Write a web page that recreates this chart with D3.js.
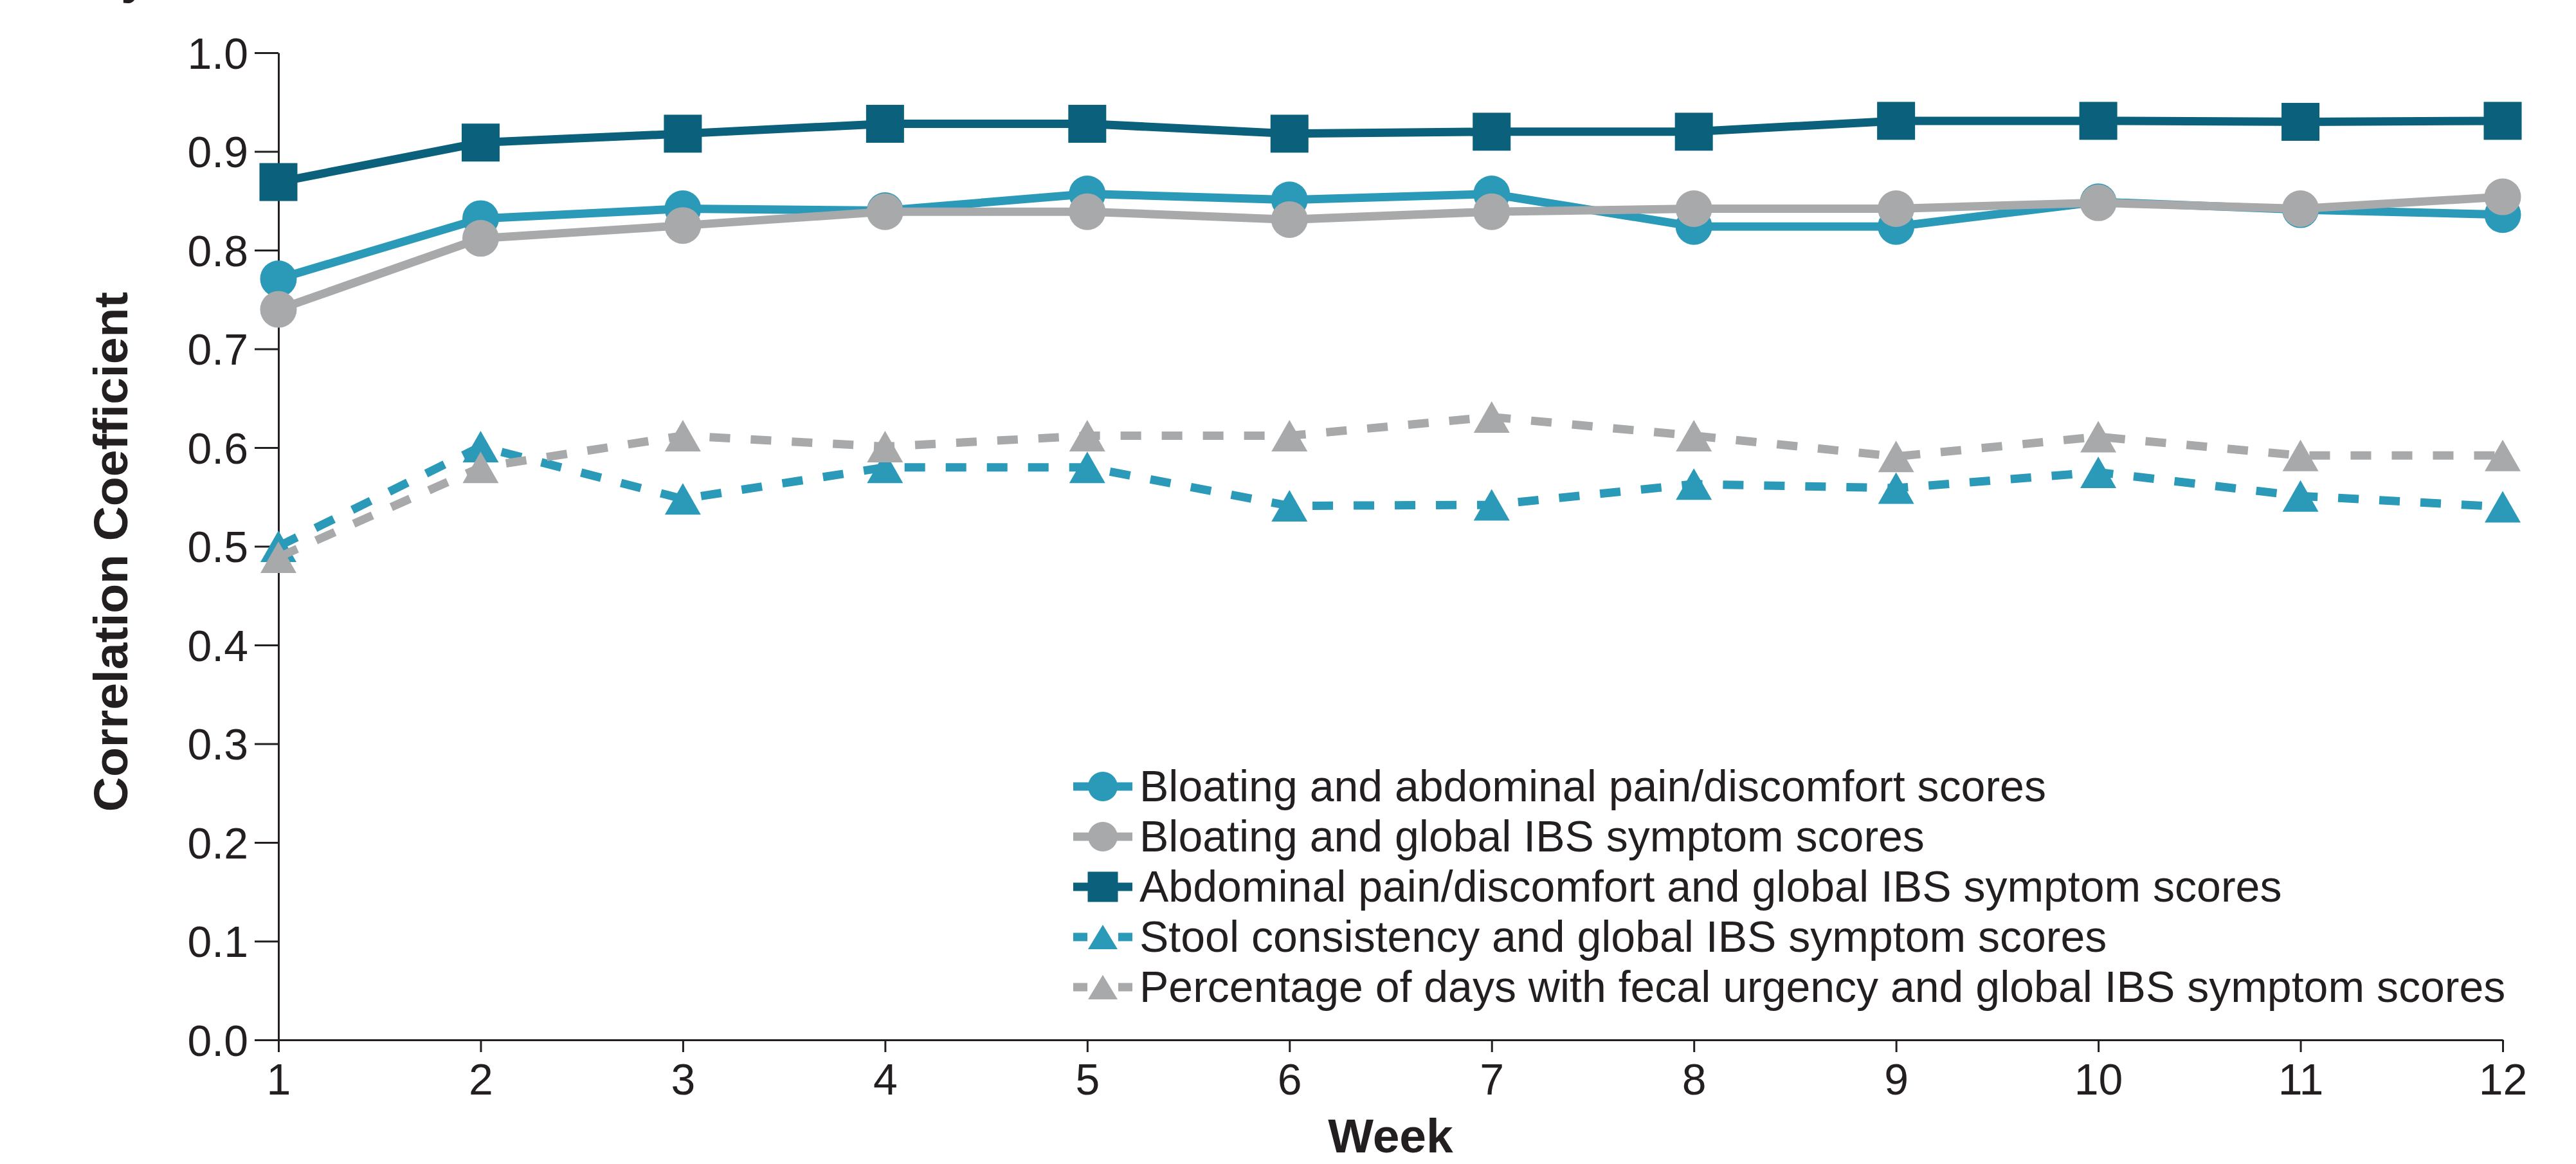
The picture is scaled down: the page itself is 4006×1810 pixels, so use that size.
<!DOCTYPE html>
<html>
<head>
<meta charset="utf-8">
<script src="https://cdn.jsdelivr.net/npm/d3@7"></script>
<style>
  body { margin: 0; background: #fff; }
  svg { display: block; }
</style>
</head>
<body>
<div id="chart"></div>
<script>
"use strict";

// data
const weeks = [1, 2, 3, 4, 5, 6, 7, 8, 9, 10, 11, 12];
const bloatingPain = [0.771, 0.832, 0.842, 0.840, 0.857, 0.851, 0.857, 0.824, 0.824, 0.849, 0.841, 0.836];
const bloatingGlobal = [0.740, 0.812, 0.825, 0.839, 0.839, 0.831, 0.839, 0.842, 0.842, 0.848, 0.842, 0.854];
const painGlobal = [0.869, 0.909, 0.918, 0.928, 0.928, 0.918, 0.920, 0.920, 0.931, 0.931, 0.930, 0.931];
const stoolGlobal = [0.500, 0.601, 0.548, 0.580, 0.580, 0.541, 0.542, 0.563, 0.559, 0.575, 0.551, 0.540];
const urgencyGlobal = [0.489, 0.580, 0.612, 0.601, 0.612, 0.612, 0.631, 0.612, 0.591, 0.611, 0.592, 0.592];

const seriesLabels = [
  "Bloating and abdominal pain/discomfort scores",
  "Bloating and global IBS symptom scores",
  "Abdominal pain/discomfort and global IBS symptom scores",
  "Stool consistency and global IBS symptom scores",
  "Percentage of days with fecal urgency and global IBS symptom scores"
];
const yTicks = [0, 0.1, 0.2, 0.3, 0.4, 0.5, 0.6, 0.7, 0.8, 0.9, 1.0];

const TEAL = "#2b9ab8";
const GREY = "#a8a9ab";
const NAVY = "#0b617c";
const INK = "#231f20";
const FONT = "'Liberation Sans', Arial, Helvetica, sans-serif";

const series = [
  { label: seriesLabels[0], values: bloatingPain, color: TEAL, shape: "circle", dashed: false },
  { label: seriesLabels[1], values: bloatingGlobal, color: GREY, shape: "circle", dashed: false },
  { label: seriesLabels[2], values: painGlobal, color: NAVY, shape: "square", dashed: false },
  { label: seriesLabels[3], values: stoolGlobal, color: TEAL, shape: "triangle", dashed: true },
  { label: seriesLabels[4], values: urgencyGlobal, color: GREY, shape: "triangle", dashed: true }
];

const width = 4006;
const height = 1810;

const svg = d3.select("#chart").append("svg")
  .attr("width", width)
  .attr("height", height)
  .style("font-family", FONT);

const x = d3.scaleLinear().domain([1, 12]).range([433, 3892]);
const y = d3.scaleLinear().domain([0, 1]).range([1617, 82]);

// marker drawing, big = plot markers, small = legend markers
function drawMarker(sel, shape, color, big) {
  if (shape === "circle") {
    sel.append("circle").attr("r", big ? 28.5 : 23).attr("fill", color);
  } else if (shape === "square") {
    const s = big ? 59 : 47;
    sel.append("rect").attr("x", -s / 2).attr("y", -s / 2)
      .attr("width", s).attr("height", s).attr("fill", color);
  } else {
    const w = big ? 56 : 46;
    const h = big ? 49 : 38;
    sel.append("path")
      .attr("d", `M0,${-h / 2}L${w / 2},${h / 2}L${-w / 2},${h / 2}Z`)
      .attr("fill", color);
  }
}

// clipped text fragment at the top left of the original figure
svg.append("text")
  .attr("x", 188)
  .attr("y", -10)
  .attr("font-size", 75)
  .attr("font-weight", "bold")
  .attr("fill", INK)
  .text("y");

// axes
const yAxis = svg.append("g")
  .attr("transform", `translate(${x(1)},0)`)
  .call(d3.axisLeft(y)
    .tickValues(yTicks)
    .tickFormat(d3.format(".1f"))
    .tickSize(37)
    .tickSizeOuter(0)
    .tickPadding(10));

const xAxis = svg.append("g")
  .attr("transform", `translate(0,${y(0)})`)
  .call(d3.axisBottom(x)
    .tickValues(weeks)
    .tickFormat(d3.format("d"))
    .tickSize(19)
    .tickSizeOuter(0)
    .tickPadding(18));

[yAxis, xAxis].forEach((g) => {
  g.attr("color", INK).attr("font-family", FONT).attr("font-size", 68);
  g.select(".domain").attr("stroke-width", 3);
  g.selectAll(".tick line").attr("stroke-width", 3);
});
yAxis.selectAll(".tick text").attr("dy", "0.36em");

svg.append("text")
  .attr("transform", `translate(198,858) rotate(-90)`)
  .attr("text-anchor", "middle")
  .attr("font-size", 75)
  .attr("font-weight", "bold")
  .attr("fill", INK)
  .text("Correlation Coefficient");

svg.append("text")
  .attr("x", (x(1) + x(12)) / 2)
  .attr("y", 1792)
  .attr("text-anchor", "middle")
  .attr("font-size", 75)
  .attr("font-weight", "bold")
  .attr("fill", INK)
  .text("Week");

// series
const line = d3.line()
  .x((d) => x(d[0]))
  .y((d) => y(d[1]));

series.forEach((s) => {
  const pts = weeks.map((w, i) => [w, s.values[i]]);
  const g = svg.append("g");
  g.append("path")
    .datum(pts)
    .attr("fill", "none")
    .attr("stroke", s.color)
    .attr("stroke-width", 13)
    .attr("stroke-dasharray", s.dashed ? "32,32" : null)
    .attr("d", line);
  g.selectAll("g.pt")
    .data(pts)
    .join("g")
    .attr("class", "pt")
    .attr("transform", (d) => `translate(${x(d[0])},${y(d[1])})`)
    .each(function () { drawMarker(d3.select(this), s.shape, s.color, true); });
});

// legend
const legend = svg.append("g");
series.forEach((s, i) => {
  const row = legend.append("g").attr("transform", `translate(0,${1223 + i * 78})`);
  row.append("line")
    .attr("x1", 1669).attr("x2", 1761)
    .attr("stroke", s.color)
    .attr("stroke-width", 13)
    .attr("stroke-dasharray", s.dashed ? "22,48,22" : null);
  drawMarker(row.append("g").attr("transform", "translate(1715,0)"), s.shape, s.color, false);
  row.append("text")
    .attr("x", 1772)
    .attr("y", 23)
    .attr("font-size", 68)
    .attr("fill", INK)
    .text(s.label);
});
</script>
</body>
</html>
